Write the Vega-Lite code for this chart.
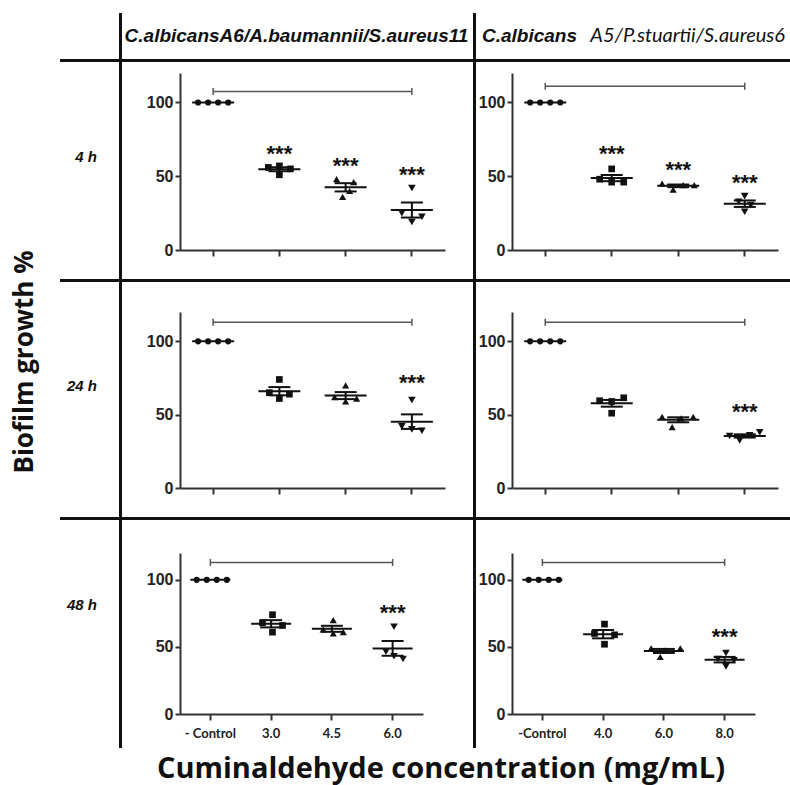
{
"$schema":"https://vega.github.io/schema/vega-lite/v6.json",
"background":"white",
"padding":{"left":0,"right":0,"top":13,"bottom":0},
"config":{"view":{"stroke":null},"concat":{"spacing":0},"axis":{"domainColor":"#333","domainWidth":2,"tickColor":"#333","tickWidth":2,"grid":false}},
"datasets":{
"pts":[
{"p":"A","cat":"- Control","g":"c","v":100,"s":-1.5},{"p":"A","cat":"- Control","g":"c","v":100,"s":-0.5},{"p":"A","cat":"- Control","g":"c","v":100,"s":0.5},{"p":"A","cat":"- Control","g":"c","v":100,"s":1.5},
{"p":"A","cat":"3.0","g":"s","v":56,"s":-1.1},{"p":"A","cat":"3.0","g":"s","v":57,"s":0},{"p":"A","cat":"3.0","g":"s","v":55,"s":1.1},{"p":"A","cat":"3.0","g":"s","v":51,"s":0},
{"p":"A","cat":"4.5","g":"t","v":48,"s":-0.9},{"p":"A","cat":"4.5","g":"t","v":46,"s":0.8},{"p":"A","cat":"4.5","g":"t","v":40,"s":0.4},{"p":"A","cat":"4.5","g":"t","v":36,"s":-0.3},
{"p":"A","cat":"6.0","g":"v","v":42,"s":0},{"p":"A","cat":"6.0","g":"v","v":25,"s":-1},{"p":"A","cat":"6.0","g":"v","v":22.5,"s":1},{"p":"A","cat":"6.0","g":"v","v":19,"s":0},
{"p":"B","cat":"-Control","g":"c","v":100,"s":-1.5},{"p":"B","cat":"-Control","g":"c","v":100,"s":-0.5},{"p":"B","cat":"-Control","g":"c","v":100,"s":0.5},{"p":"B","cat":"-Control","g":"c","v":100,"s":1.5},
{"p":"B","cat":"4.0","g":"s","v":55,"s":0},{"p":"B","cat":"4.0","g":"s","v":48,"s":-1.2},{"p":"B","cat":"4.0","g":"s","v":46,"s":0},{"p":"B","cat":"4.0","g":"s","v":46,"s":1.2},
{"p":"B","cat":"6.0","g":"t","v":45,"s":-1.6},{"p":"B","cat":"6.0","g":"t","v":44,"s":0.5},{"p":"B","cat":"6.0","g":"t","v":44,"s":1.6},{"p":"B","cat":"6.0","g":"t","v":41,"s":-0.5},
{"p":"B","cat":"8.0","g":"v","v":36.5,"s":0},{"p":"B","cat":"8.0","g":"v","v":32.7,"s":-0.6},{"p":"B","cat":"8.0","g":"v","v":30.4,"s":0.6},{"p":"B","cat":"8.0","g":"v","v":25.9,"s":0},
{"p":"C","cat":"- Control","g":"c","v":100,"s":-1.5},{"p":"C","cat":"- Control","g":"c","v":100,"s":-0.5},{"p":"C","cat":"- Control","g":"c","v":100,"s":0.5},{"p":"C","cat":"- Control","g":"c","v":100,"s":1.5},
{"p":"C","cat":"3.0","g":"s","v":74,"s":0},{"p":"C","cat":"3.0","g":"s","v":65,"s":-1},{"p":"C","cat":"3.0","g":"s","v":64,"s":1},{"p":"C","cat":"3.0","g":"s","v":61,"s":0},
{"p":"C","cat":"4.5","g":"t","v":70,"s":0},{"p":"C","cat":"4.5","g":"t","v":62,"s":-1.1},{"p":"C","cat":"4.5","g":"t","v":61,"s":1.1},{"p":"C","cat":"4.5","g":"t","v":59,"s":0},
{"p":"C","cat":"6.0","g":"v","v":60,"s":0},{"p":"C","cat":"6.0","g":"v","v":42,"s":-1},{"p":"C","cat":"6.0","g":"v","v":40,"s":0},{"p":"C","cat":"6.0","g":"v","v":39,"s":1},
{"p":"D","cat":"-Control","g":"c","v":100,"s":-1.5},{"p":"D","cat":"-Control","g":"c","v":100,"s":-0.5},{"p":"D","cat":"-Control","g":"c","v":100,"s":0.5},{"p":"D","cat":"-Control","g":"c","v":100,"s":1.5},
{"p":"D","cat":"4.0","g":"s","v":59.5,"s":-1.2},{"p":"D","cat":"4.0","g":"s","v":59,"s":0},{"p":"D","cat":"4.0","g":"s","v":61.5,"s":1.2},{"p":"D","cat":"4.0","g":"s","v":51,"s":0},
{"p":"D","cat":"6.0","g":"t","v":48.5,"s":-1.6},{"p":"D","cat":"6.0","g":"t","v":47.5,"s":0.3},{"p":"D","cat":"6.0","g":"t","v":48.5,"s":1.5},{"p":"D","cat":"6.0","g":"t","v":41.5,"s":-0.6},
{"p":"D","cat":"8.0","g":"v","v":35.5,"s":-1.5},{"p":"D","cat":"8.0","g":"v","v":32.5,"s":-0.5},{"p":"D","cat":"8.0","g":"v","v":36,"s":0.5},{"p":"D","cat":"8.0","g":"v","v":38,"s":1.5},
{"p":"E","cat":"- Control","g":"c","v":100,"s":-1.5},{"p":"E","cat":"- Control","g":"c","v":100,"s":-0.5},{"p":"E","cat":"- Control","g":"c","v":100,"s":0.5},{"p":"E","cat":"- Control","g":"c","v":100,"s":1.5},
{"p":"E","cat":"3.0","g":"s","v":74,"s":0},{"p":"E","cat":"3.0","g":"s","v":68,"s":-1},{"p":"E","cat":"3.0","g":"s","v":66,"s":1},{"p":"E","cat":"3.0","g":"s","v":61,"s":0},
{"p":"E","cat":"4.5","g":"t","v":70,"s":0},{"p":"E","cat":"4.5","g":"t","v":63,"s":-1},{"p":"E","cat":"4.5","g":"t","v":61,"s":1},{"p":"E","cat":"4.5","g":"t","v":60,"s":0},
{"p":"E","cat":"6.0","g":"v","v":65,"s":0},{"p":"E","cat":"6.0","g":"v","v":46.5,"s":-0.8},{"p":"E","cat":"6.0","g":"v","v":43,"s":0},{"p":"E","cat":"6.0","g":"v","v":41,"s":0.9},
{"p":"F","cat":"-Control","g":"c","v":100,"s":-1.5},{"p":"F","cat":"-Control","g":"c","v":100,"s":-0.5},{"p":"F","cat":"-Control","g":"c","v":100,"s":0.5},{"p":"F","cat":"-Control","g":"c","v":100,"s":1.5},
{"p":"F","cat":"4.0","g":"s","v":67,"s":0},{"p":"F","cat":"4.0","g":"s","v":60,"s":-1},{"p":"F","cat":"4.0","g":"s","v":59,"s":1},{"p":"F","cat":"4.0","g":"s","v":52,"s":0},
{"p":"F","cat":"6.0","g":"t","v":49,"s":-1.4},{"p":"F","cat":"6.0","g":"t","v":49,"s":1.5},{"p":"F","cat":"6.0","g":"t","v":47.5,"s":0},{"p":"F","cat":"6.0","g":"t","v":42.5,"s":-0.5},
{"p":"F","cat":"8.0","g":"v","v":45.5,"s":0},{"p":"F","cat":"8.0","g":"v","v":41,"s":-0.8},{"p":"F","cat":"8.0","g":"v","v":40,"s":0.8},{"p":"F","cat":"8.0","g":"v","v":35.5,"s":0}
],
"lns":[
{"p":"A","cat":"- Control","k":"m","v":100},
{"p":"A","cat":"3.0","k":"m","v":54.75},{"p":"A","cat":"3.0","k":"lo","v":53.4},{"p":"A","cat":"3.0","k":"hi","v":56.1},
{"p":"A","cat":"4.5","k":"m","v":42.5},{"p":"A","cat":"4.5","k":"lo","v":39.7},{"p":"A","cat":"4.5","k":"hi","v":45.3},
{"p":"A","cat":"6.0","k":"m","v":27.1},{"p":"A","cat":"6.0","k":"lo","v":22.0},{"p":"A","cat":"6.0","k":"hi","v":32.2},
{"p":"B","cat":"-Control","k":"m","v":100},
{"p":"B","cat":"4.0","k":"m","v":48.75},{"p":"B","cat":"4.0","k":"lo","v":46.65},{"p":"B","cat":"4.0","k":"hi","v":50.85},
{"p":"B","cat":"6.0","k":"m","v":43.5},{"p":"B","cat":"6.0","k":"lo","v":42.6},{"p":"B","cat":"6.0","k":"hi","v":44.4},
{"p":"B","cat":"8.0","k":"m","v":31.4},{"p":"B","cat":"8.0","k":"lo","v":29.2},{"p":"B","cat":"8.0","k":"hi","v":33.6},
{"p":"C","cat":"- Control","k":"m","v":100},
{"p":"C","cat":"3.0","k":"m","v":66},{"p":"C","cat":"3.0","k":"lo","v":63.2},{"p":"C","cat":"3.0","k":"hi","v":68.8},
{"p":"C","cat":"4.5","k":"m","v":63},{"p":"C","cat":"4.5","k":"lo","v":60.6},{"p":"C","cat":"4.5","k":"hi","v":65.4},
{"p":"C","cat":"6.0","k":"m","v":45.25},{"p":"C","cat":"6.0","k":"lo","v":40.3},{"p":"C","cat":"6.0","k":"hi","v":50.2},
{"p":"D","cat":"-Control","k":"m","v":100},
{"p":"D","cat":"4.0","k":"m","v":57.75},{"p":"D","cat":"4.0","k":"lo","v":55.45},{"p":"D","cat":"4.0","k":"hi","v":60.05},
{"p":"D","cat":"6.0","k":"m","v":46.5},{"p":"D","cat":"6.0","k":"lo","v":44.8},{"p":"D","cat":"6.0","k":"hi","v":48.2},
{"p":"D","cat":"8.0","k":"m","v":35.5},{"p":"D","cat":"8.0","k":"lo","v":34.4},{"p":"D","cat":"8.0","k":"hi","v":36.6},
{"p":"E","cat":"- Control","k":"m","v":100},
{"p":"E","cat":"3.0","k":"m","v":67.25},{"p":"E","cat":"3.0","k":"lo","v":64.55},{"p":"E","cat":"3.0","k":"hi","v":69.95},
{"p":"E","cat":"4.5","k":"m","v":63.5},{"p":"E","cat":"4.5","k":"lo","v":61.25},{"p":"E","cat":"4.5","k":"hi","v":65.75},
{"p":"E","cat":"6.0","k":"m","v":48.9},{"p":"E","cat":"6.0","k":"lo","v":43.4},{"p":"E","cat":"6.0","k":"hi","v":54.4},
{"p":"F","cat":"-Control","k":"m","v":100},
{"p":"F","cat":"4.0","k":"m","v":59.5},{"p":"F","cat":"4.0","k":"lo","v":56.4},{"p":"F","cat":"4.0","k":"hi","v":62.6},
{"p":"F","cat":"6.0","k":"m","v":47},{"p":"F","cat":"6.0","k":"lo","v":45.5},{"p":"F","cat":"6.0","k":"hi","v":48.5},
{"p":"F","cat":"8.0","k":"m","v":40.5},{"p":"F","cat":"8.0","k":"lo","v":38.45},{"p":"F","cat":"8.0","k":"hi","v":42.55}
],
"brk":[
{"p":"A","cat":"- Control","v":107.5},{"p":"A","cat":"6.0","v":107.5},
{"p":"B","cat":"-Control","v":111},{"p":"B","cat":"8.0","v":111},
{"p":"C","cat":"- Control","v":113},{"p":"C","cat":"6.0","v":113},
{"p":"D","cat":"-Control","v":113},{"p":"D","cat":"8.0","v":113},
{"p":"E","cat":"- Control","v":112.9},{"p":"E","cat":"6.0","v":112.9},
{"p":"F","cat":"-Control","v":113},{"p":"F","cat":"8.0","v":113}
],
"str":[
{"p":"A","cat":"3.0","v":69},{"p":"A","cat":"4.5","v":61},{"p":"A","cat":"6.0","v":55},
{"p":"B","cat":"4.0","v":69},{"p":"B","cat":"6.0","v":58.6},{"p":"B","cat":"8.0","v":49.5},
{"p":"C","cat":"6.0","v":75.9},
{"p":"D","cat":"8.0","v":56},
{"p":"E","cat":"6.0","v":79.7},
{"p":"F","cat":"8.0","v":61.7}
]
},
"spacing":0,
"vconcat":[
{"spacing":0,"hconcat":[
 {"width":60,"height":735,"data":{"values":[{"t":"Biofilm growth %"}]},"mark":{"type":"text","angle":270,"font":"Open Sans","fontWeight":"bold","fontSize":26,"baseline":"middle","align":"center","dx":18.5,"dy":-5,"color":"#111"},"encoding":{"text":{"field":"t","type":"nominal"}}},
 {"spacing":0,"vconcat":[
  {"width":59,"height":46,"data":{"values":[]},"mark":"point"},
  {"width":59,"height":3,"view":{"fill":"#111","stroke":null},"data":{"values":[]},"mark":"point"},
  {"width":59,"height":217,"data":{"values":[{"t":"4 h"}]},"mark":{"type":"text","font":"Liberation Sans","fontWeight":"bold","fontStyle":"italic","fontSize":15,"align":"right","baseline":"middle","dx":7.5,"dy":-13.5,"color":"#111"},"encoding":{"text":{"field":"t","type":"nominal"}}},
  {"width":59,"height":3,"view":{"fill":"#111","stroke":null},"data":{"values":[]},"mark":"point"},
  {"width":59,"height":235,"data":{"values":[{"t":"24 h"}]},"mark":{"type":"text","font":"Liberation Sans","fontWeight":"bold","fontStyle":"italic","fontSize":15,"align":"right","baseline":"middle","dx":7.5,"dy":-13.5,"color":"#111"},"encoding":{"text":{"field":"t","type":"nominal"}}},
  {"width":59,"height":3,"view":{"fill":"#111","stroke":null},"data":{"values":[]},"mark":"point"},
  {"width":59,"height":228,"data":{"values":[{"t":"48 h"}]},"mark":{"type":"text","font":"Liberation Sans","fontWeight":"bold","fontStyle":"italic","fontSize":15,"align":"right","baseline":"middle","dx":7.5,"dy":-29,"color":"#111"},"encoding":{"text":{"field":"t","type":"nominal"}}}
 ]},
 {"width":3,"height":735,"view":{"fill":"#111","stroke":null},"data":{"values":[]},"mark":"point"},
 {"spacing":0,"vconcat":[
  {"width":351,"height":46,"data":{"values":[{"t":"C.albicansA6/A.baumannii/S.aureus11"}]},"mark":{"type":"text","font":"Liberation Sans","fontWeight":"bold","fontStyle":"italic","fontSize":19,"baseline":"middle","dx":-1,"color":"#111"},"encoding":{"text":{"field":"t","type":"nominal"}}},
  {"width":351,"height":3,"view":{"fill":"#111","stroke":null},"data":{"values":[]},"mark":"point"},
  {"width":351,"height":217,
   "encoding":{
    "x":{"field":"cat","type":"nominal","scale":{"type":"band","domain":["- Control","3.0","4.5","6.0"],"range":[58,323],"paddingInner":0.5,"paddingOuter":0.25},"axis":{"title":null,"labels":false,"tickSize":6,"offset":-29,"minExtent":0}},
    "y":{"field":"v","type":"quantitative","scale":{"domain":[0,120],"nice":false,"range":[188,11]},"axis":{"title":null,"values":[0,50,100],"labelFont":"Liberation Sans","labelFontWeight":"bold","labelFontSize":16,"labelColor":"#222","labelPadding":2,"labelFlush":false,"tickSize":5,"offset":-58,"minExtent":0}}},
   "layer":[
    {"data":{"name":"brk"},"transform":[{"filter":"datum.p=='A'"}],"mark":{"type":"line","color":"#555","strokeWidth":1.5}},
    {"data":{"name":"brk"},"transform":[{"filter":"datum.p=='A'"}],"mark":{"type":"tick","orient":"vertical","size":7,"thickness":1.5,"color":"#555","opacity":1}},
    {"data":{"name":"pts"},"transform":[{"filter":"datum.p=='A'"}],"mark":{"type":"point","filled":true,"opacity":1,"color":"#111"},"encoding":{"xOffset":{"field":"s","type":"quantitative","scale":{"domain":[-1.65,1.65]}},"shape":{"field":"g","type":"nominal","scale":{"domain":["c","s","t","v"],"range":["circle","square","triangle-up","triangle-down"]},"legend":null},"size":{"field":"g","type":"ordinal","scale":{"domain":["c","s","t","v"],"range":[38,58,64,64]},"legend":null}}},
    {"data":{"name":"lns"},"transform":[{"filter":"datum.p=='A' && datum.k=='m'"}],"mark":{"type":"tick","size":42,"thickness":2,"color":"#111","opacity":1}},
    {"data":{"name":"lns"},"transform":[{"filter":"datum.p=='A' && datum.k!='m'"}],"mark":{"type":"tick","size":22,"thickness":2,"color":"#111","opacity":1}},
    {"data":{"name":"lns"},"transform":[{"filter":"datum.p=='A' && datum.k!='m'"}],"mark":{"type":"line","color":"#111","strokeWidth":2},"encoding":{"detail":{"field":"cat","type":"nominal"}}},
    {"data":{"name":"str"},"transform":[{"filter":"datum.p=='A'"}],"mark":{"type":"text","text":"***","font":"Liberation Sans","fontWeight":"bold","fontSize":22,"dy":6,"color":"#111"}}
   ]},
  {"width":351,"height":3,"view":{"fill":"#111","stroke":null},"data":{"values":[]},"mark":"point"},
  {"width":351,"height":235,
   "encoding":{
    "x":{"field":"cat","type":"nominal","scale":{"type":"band","domain":["- Control","3.0","4.5","6.0"],"range":[58,323],"paddingInner":0.5,"paddingOuter":0.25},"axis":{"title":null,"labels":false,"tickSize":6,"offset":-29,"minExtent":0}},
    "y":{"field":"v","type":"quantitative","scale":{"domain":[0,120],"nice":false,"range":[206,30]},"axis":{"title":null,"values":[0,50,100],"labelFont":"Liberation Sans","labelFontWeight":"bold","labelFontSize":16,"labelColor":"#222","labelPadding":2,"labelFlush":false,"tickSize":5,"offset":-58,"minExtent":0}}},
   "layer":[
    {"data":{"name":"brk"},"transform":[{"filter":"datum.p=='C'"}],"mark":{"type":"line","color":"#555","strokeWidth":1.5}},
    {"data":{"name":"brk"},"transform":[{"filter":"datum.p=='C'"}],"mark":{"type":"tick","orient":"vertical","size":7,"thickness":1.5,"color":"#555","opacity":1}},
    {"data":{"name":"pts"},"transform":[{"filter":"datum.p=='C'"}],"mark":{"type":"point","filled":true,"opacity":1,"color":"#111"},"encoding":{"xOffset":{"field":"s","type":"quantitative","scale":{"domain":[-1.65,1.65]}},"shape":{"field":"g","type":"nominal","scale":{"domain":["c","s","t","v"],"range":["circle","square","triangle-up","triangle-down"]},"legend":null},"size":{"field":"g","type":"ordinal","scale":{"domain":["c","s","t","v"],"range":[38,58,64,64]},"legend":null}}},
    {"data":{"name":"lns"},"transform":[{"filter":"datum.p=='C' && datum.k=='m'"}],"mark":{"type":"tick","size":42,"thickness":2,"color":"#111","opacity":1}},
    {"data":{"name":"lns"},"transform":[{"filter":"datum.p=='C' && datum.k!='m'"}],"mark":{"type":"tick","size":22,"thickness":2,"color":"#111","opacity":1}},
    {"data":{"name":"lns"},"transform":[{"filter":"datum.p=='C' && datum.k!='m'"}],"mark":{"type":"line","color":"#111","strokeWidth":2},"encoding":{"detail":{"field":"cat","type":"nominal"}}},
    {"data":{"name":"str"},"transform":[{"filter":"datum.p=='C'"}],"mark":{"type":"text","text":"***","font":"Liberation Sans","fontWeight":"bold","fontSize":22,"dy":6,"color":"#111"}}
   ]},
  {"width":351,"height":3,"view":{"fill":"#111","stroke":null},"data":{"values":[]},"mark":"point"},
  {"width":351,"height":228,
   "encoding":{
    "x":{"field":"cat","type":"nominal","scale":{"type":"band","domain":["- Control","3.0","4.5","6.0"],"range":[58,301],"paddingInner":0.5,"paddingOuter":0.25},"axis":{"title":null,"labelAngle":0,"labelFont":"Lato","labelFontSize":13,"labelFontWeight":"bold","labelColor":"#222","labelPadding":7,"tickSize":6,"offset":-34,"minExtent":0}},
    "y":{"field":"v","type":"quantitative","scale":{"domain":[0,120],"nice":false,"range":[194,33]},"axis":{"title":null,"values":[0,50,100],"labelFont":"Liberation Sans","labelFontWeight":"bold","labelFontSize":16,"labelColor":"#222","labelPadding":2,"labelFlush":false,"tickSize":5,"offset":-58,"minExtent":0}}},
   "layer":[
    {"data":{"name":"brk"},"transform":[{"filter":"datum.p=='E'"}],"mark":{"type":"line","color":"#555","strokeWidth":1.5}},
    {"data":{"name":"brk"},"transform":[{"filter":"datum.p=='E'"}],"mark":{"type":"tick","orient":"vertical","size":7,"thickness":1.5,"color":"#555","opacity":1}},
    {"data":{"name":"pts"},"transform":[{"filter":"datum.p=='E'"}],"mark":{"type":"point","filled":true,"opacity":1,"color":"#111"},"encoding":{"xOffset":{"field":"s","type":"quantitative","scale":{"domain":[-1.65,1.65]}},"shape":{"field":"g","type":"nominal","scale":{"domain":["c","s","t","v"],"range":["circle","square","triangle-up","triangle-down"]},"legend":null},"size":{"field":"g","type":"ordinal","scale":{"domain":["c","s","t","v"],"range":[38,58,64,64]},"legend":null}}},
    {"data":{"name":"lns"},"transform":[{"filter":"datum.p=='E' && datum.k=='m'"}],"mark":{"type":"tick","size":40,"thickness":2,"color":"#111","opacity":1}},
    {"data":{"name":"lns"},"transform":[{"filter":"datum.p=='E' && datum.k!='m'"}],"mark":{"type":"tick","size":22,"thickness":2,"color":"#111","opacity":1}},
    {"data":{"name":"lns"},"transform":[{"filter":"datum.p=='E' && datum.k!='m'"}],"mark":{"type":"line","color":"#111","strokeWidth":2},"encoding":{"detail":{"field":"cat","type":"nominal"}}},
    {"data":{"name":"str"},"transform":[{"filter":"datum.p=='E'"}],"mark":{"type":"text","text":"***","font":"Liberation Sans","fontWeight":"bold","fontSize":22,"dy":6,"color":"#111"}}
   ]}
 ]},
 {"width":3,"height":735,"view":{"fill":"#111","stroke":null},"data":{"values":[]},"mark":"point"},
 {"spacing":0,"vconcat":[
  {"width":314,"height":46,"data":{"values":[{"a":"C.albicans","b":"A5/P.stuartii/S.aureus6"}]},"layer":[
    {"mark":{"type":"text","align":"left","dx":-151,"font":"Liberation Sans","fontWeight":"bold","fontStyle":"italic","fontSize":19,"baseline":"middle","color":"#111"},"encoding":{"text":{"field":"a","type":"nominal"}}},
    {"mark":{"type":"text","align":"right","dx":152,"font":"Lato","fontStyle":"italic","fontSize":20,"baseline":"middle","color":"#111"},"encoding":{"text":{"field":"b","type":"nominal"}}}
  ]},
  {"width":314,"height":3,"view":{"fill":"#111","stroke":null},"data":{"values":[]},"mark":"point"},
  {"width":314,"height":217,
   "encoding":{
    "x":{"field":"cat","type":"nominal","scale":{"type":"band","domain":["-Control","4.0","6.0","8.0"],"range":[36,302],"paddingInner":0.5,"paddingOuter":0.25},"axis":{"title":null,"labels":false,"tickSize":6,"offset":-29,"minExtent":0}},
    "y":{"field":"v","type":"quantitative","scale":{"domain":[0,120],"nice":false,"range":[188,11]},"axis":{"title":null,"values":[0,50,100],"labelFont":"Liberation Sans","labelFontWeight":"bold","labelFontSize":16,"labelColor":"#222","labelPadding":2,"labelFlush":false,"tickSize":5,"offset":-36,"minExtent":0}}},
   "layer":[
    {"data":{"name":"brk"},"transform":[{"filter":"datum.p=='B'"}],"mark":{"type":"line","color":"#555","strokeWidth":1.5}},
    {"data":{"name":"brk"},"transform":[{"filter":"datum.p=='B'"}],"mark":{"type":"tick","orient":"vertical","size":7,"thickness":1.5,"color":"#555","opacity":1}},
    {"data":{"name":"pts"},"transform":[{"filter":"datum.p=='B'"}],"mark":{"type":"point","filled":true,"opacity":1,"color":"#111"},"encoding":{"xOffset":{"field":"s","type":"quantitative","scale":{"domain":[-1.65,1.65]}},"shape":{"field":"g","type":"nominal","scale":{"domain":["c","s","t","v"],"range":["circle","square","triangle-up","triangle-down"]},"legend":null},"size":{"field":"g","type":"ordinal","scale":{"domain":["c","s","t","v"],"range":[38,58,64,64]},"legend":null}}},
    {"data":{"name":"lns"},"transform":[{"filter":"datum.p=='B' && datum.k=='m'"}],"mark":{"type":"tick","size":42,"thickness":2,"color":"#111","opacity":1}},
    {"data":{"name":"lns"},"transform":[{"filter":"datum.p=='B' && datum.k!='m'"}],"mark":{"type":"tick","size":22,"thickness":2,"color":"#111","opacity":1}},
    {"data":{"name":"lns"},"transform":[{"filter":"datum.p=='B' && datum.k!='m'"}],"mark":{"type":"line","color":"#111","strokeWidth":2},"encoding":{"detail":{"field":"cat","type":"nominal"}}},
    {"data":{"name":"str"},"transform":[{"filter":"datum.p=='B'"}],"mark":{"type":"text","text":"***","font":"Liberation Sans","fontWeight":"bold","fontSize":22,"dy":6,"color":"#111"}}
   ]},
  {"width":314,"height":3,"view":{"fill":"#111","stroke":null},"data":{"values":[]},"mark":"point"},
  {"width":314,"height":235,
   "encoding":{
    "x":{"field":"cat","type":"nominal","scale":{"type":"band","domain":["-Control","4.0","6.0","8.0"],"range":[36,302],"paddingInner":0.5,"paddingOuter":0.25},"axis":{"title":null,"labels":false,"tickSize":6,"offset":-29,"minExtent":0}},
    "y":{"field":"v","type":"quantitative","scale":{"domain":[0,120],"nice":false,"range":[206,30]},"axis":{"title":null,"values":[0,50,100],"labelFont":"Liberation Sans","labelFontWeight":"bold","labelFontSize":16,"labelColor":"#222","labelPadding":2,"labelFlush":false,"tickSize":5,"offset":-36,"minExtent":0}}},
   "layer":[
    {"data":{"name":"brk"},"transform":[{"filter":"datum.p=='D'"}],"mark":{"type":"line","color":"#555","strokeWidth":1.5}},
    {"data":{"name":"brk"},"transform":[{"filter":"datum.p=='D'"}],"mark":{"type":"tick","orient":"vertical","size":7,"thickness":1.5,"color":"#555","opacity":1}},
    {"data":{"name":"pts"},"transform":[{"filter":"datum.p=='D'"}],"mark":{"type":"point","filled":true,"opacity":1,"color":"#111"},"encoding":{"xOffset":{"field":"s","type":"quantitative","scale":{"domain":[-1.65,1.65]}},"shape":{"field":"g","type":"nominal","scale":{"domain":["c","s","t","v"],"range":["circle","square","triangle-up","triangle-down"]},"legend":null},"size":{"field":"g","type":"ordinal","scale":{"domain":["c","s","t","v"],"range":[38,58,64,64]},"legend":null}}},
    {"data":{"name":"lns"},"transform":[{"filter":"datum.p=='D' && datum.k=='m'"}],"mark":{"type":"tick","size":42,"thickness":2,"color":"#111","opacity":1}},
    {"data":{"name":"lns"},"transform":[{"filter":"datum.p=='D' && datum.k!='m'"}],"mark":{"type":"tick","size":22,"thickness":2,"color":"#111","opacity":1}},
    {"data":{"name":"lns"},"transform":[{"filter":"datum.p=='D' && datum.k!='m'"}],"mark":{"type":"line","color":"#111","strokeWidth":2},"encoding":{"detail":{"field":"cat","type":"nominal"}}},
    {"data":{"name":"str"},"transform":[{"filter":"datum.p=='D'"}],"mark":{"type":"text","text":"***","font":"Liberation Sans","fontWeight":"bold","fontSize":22,"dy":6,"color":"#111"}}
   ]},
  {"width":314,"height":3,"view":{"fill":"#111","stroke":null},"data":{"values":[]},"mark":"point"},
  {"width":314,"height":228,
   "encoding":{
    "x":{"field":"cat","type":"nominal","scale":{"type":"band","domain":["-Control","4.0","6.0","8.0"],"range":[36,279],"paddingInner":0.5,"paddingOuter":0.25},"axis":{"title":null,"labelAngle":0,"labelFont":"Lato","labelFontSize":13,"labelFontWeight":"bold","labelColor":"#222","labelPadding":7,"tickSize":6,"offset":-34,"minExtent":0}},
    "y":{"field":"v","type":"quantitative","scale":{"domain":[0,120],"nice":false,"range":[194,33]},"axis":{"title":null,"values":[0,50,100],"labelFont":"Liberation Sans","labelFontWeight":"bold","labelFontSize":16,"labelColor":"#222","labelPadding":2,"labelFlush":false,"tickSize":5,"offset":-36,"minExtent":0}}},
   "layer":[
    {"data":{"name":"brk"},"transform":[{"filter":"datum.p=='F'"}],"mark":{"type":"line","color":"#555","strokeWidth":1.5}},
    {"data":{"name":"brk"},"transform":[{"filter":"datum.p=='F'"}],"mark":{"type":"tick","orient":"vertical","size":7,"thickness":1.5,"color":"#555","opacity":1}},
    {"data":{"name":"pts"},"transform":[{"filter":"datum.p=='F'"}],"mark":{"type":"point","filled":true,"opacity":1,"color":"#111"},"encoding":{"xOffset":{"field":"s","type":"quantitative","scale":{"domain":[-1.65,1.65]}},"shape":{"field":"g","type":"nominal","scale":{"domain":["c","s","t","v"],"range":["circle","square","triangle-up","triangle-down"]},"legend":null},"size":{"field":"g","type":"ordinal","scale":{"domain":["c","s","t","v"],"range":[38,58,64,64]},"legend":null}}},
    {"data":{"name":"lns"},"transform":[{"filter":"datum.p=='F' && datum.k=='m'"}],"mark":{"type":"tick","size":40,"thickness":2,"color":"#111","opacity":1}},
    {"data":{"name":"lns"},"transform":[{"filter":"datum.p=='F' && datum.k!='m'"}],"mark":{"type":"tick","size":22,"thickness":2,"color":"#111","opacity":1}},
    {"data":{"name":"lns"},"transform":[{"filter":"datum.p=='F' && datum.k!='m'"}],"mark":{"type":"line","color":"#111","strokeWidth":2},"encoding":{"detail":{"field":"cat","type":"nominal"}}},
    {"data":{"name":"str"},"transform":[{"filter":"datum.p=='F'"}],"mark":{"type":"text","text":"***","font":"Liberation Sans","fontWeight":"bold","fontSize":22,"dy":6,"color":"#111"}}
   ]}
 ]}
]},
{"width":790,"height":37,"data":{"values":[{"t":"Cuminaldehyde concentration (mg/mL)"}]},"mark":{"type":"text","font":"Open Sans","fontWeight":"bold","fontSize":29,"baseline":"middle","dx":46,"dy":2,"color":"#111"},"encoding":{"text":{"field":"t","type":"nominal"}}}
]
}
